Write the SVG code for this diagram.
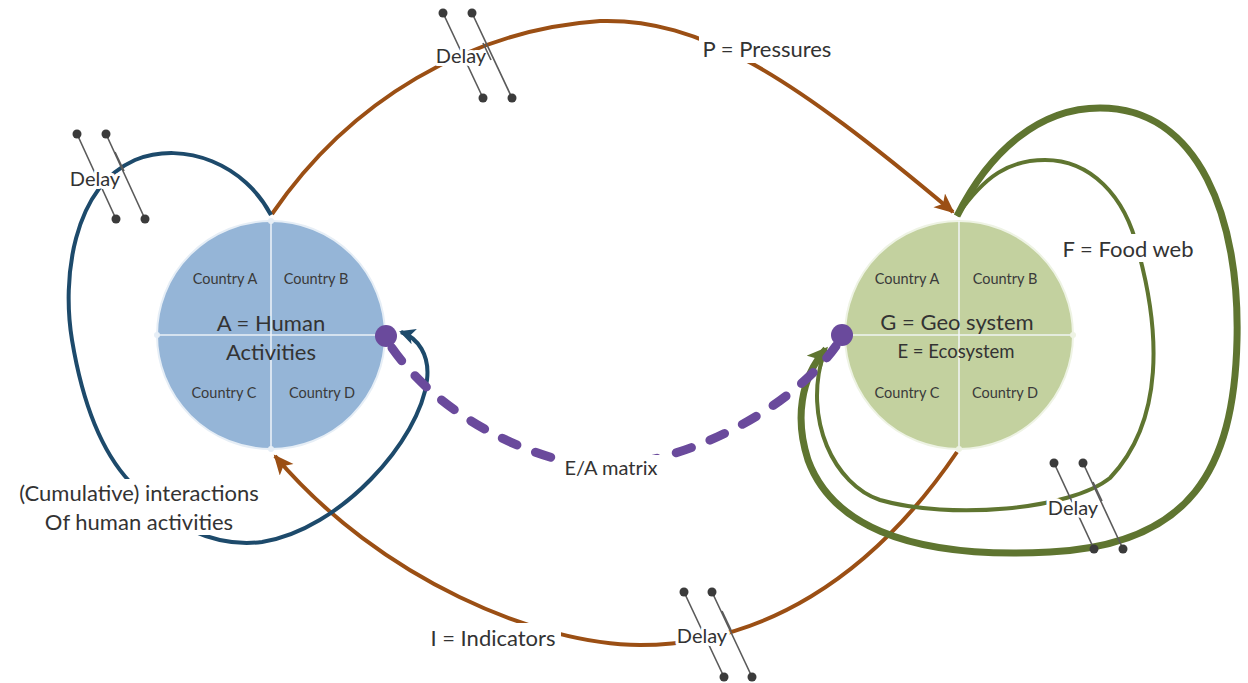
<svg xmlns="http://www.w3.org/2000/svg" width="1248" height="683" viewBox="0 0 1248 683">
<style>
  text{font-family:Lato,"Open Sans","Liberation Sans",sans-serif;fill:#333;text-anchor:middle;dominant-baseline:central}
  .ctry{font-size:14.5px;fill:#3a3a3a}
  .big{font-size:22px}
  .lbl{font-size:22px}
  .dly{font-size:20px}
  .halo{paint-order:stroke;stroke:#fff;stroke-width:6px;stroke-linejoin:round}
  .div{stroke:#f4f8fb;stroke-width:1.6;opacity:0.9}
  .brown{fill:none;stroke:#9b4f14;stroke-width:4}
  .blue{fill:none;stroke:#1d4a6b;stroke-width:4}
  .gthick{fill:none;stroke:#5f7530;stroke-width:7}
  .gthin{fill:none;stroke:#5f7530;stroke-width:4}
  .purple{fill:none;stroke:#6a4a9c;stroke-width:9;stroke-linecap:round;stroke-dasharray:16 20}
  .dl{stroke:#5a5a5a;stroke-width:1.6}
  .dd{fill:#3b3b3b}
  .bg{fill:#fff}
</style>
<defs>
  <marker id="arB" markerUnits="userSpaceOnUse" markerWidth="24" markerHeight="20" refX="18" refY="9" orient="auto">
    <path d="M0,0 L20,9 L0,18 L5,9 z" fill="#9b4f14"/>
  </marker>
  <marker id="arBl" markerUnits="userSpaceOnUse" markerWidth="20" markerHeight="18" refX="14" refY="8" orient="auto">
    <path d="M0,0 L16,8 L0,16 L4,8 z" fill="#1d4a6b"/>
  </marker>
  <marker id="arG" markerUnits="userSpaceOnUse" markerWidth="26" markerHeight="22" refX="18" refY="10" orient="auto">
    <path d="M0,0 L21,10 L0,20 L5,10 z" fill="#5f7530"/>
  </marker>
</defs>

<rect width="1248" height="683" fill="#fff"/>

<g id="node-A">
  <circle cx="271" cy="335" r="114" fill="#95b5d7" stroke="#e6eef6" stroke-width="2"/>
  <line class="div" x1="271" y1="221" x2="271" y2="449"/>
  <line class="div" x1="157" y1="335" x2="385" y2="335"/>
  <circle cx="271" cy="221" r="3" fill="#e6eef6"/>
  <circle cx="271" cy="449" r="3" fill="#e6eef6"/>
  <circle cx="157" cy="335" r="3" fill="#e6eef6"/>
  <text class="ctry" x="225" y="278">Country A</text>
  <text class="ctry" x="316" y="278">Country B</text>
  <text class="big" x="271" y="322">A = Human</text>
  <text class="big" x="271" y="351">Activities</text>
  <text class="ctry" x="224" y="392">Country C</text>
  <text class="ctry" x="322" y="392">Country D</text>
</g>

<g id="node-G">
  <circle cx="959" cy="335" r="114" fill="#c3d19f" stroke="#eef3e4" stroke-width="2"/>
  <line class="div" x1="959" y1="221" x2="959" y2="449"/>
  <line class="div" x1="845" y1="335" x2="1073" y2="335"/>
  <circle cx="959" cy="449" r="3" fill="#eef3e4"/>
  <circle cx="1073" cy="335" r="3" fill="#eef3e4"/>
  <text class="ctry" x="907" y="278">Country A</text>
  <text class="ctry" x="1005" y="278">Country B</text>
  <text class="big" x="957" y="321">G = Geo system</text>
  <text x="956" y="351" style="font-size:18.5px">E = Ecosystem</text>
  <text class="ctry" x="907" y="392">Country C</text>
  <text class="ctry" x="1005" y="392">Country D</text>
</g>

<g id="connectors">
  <!-- P = Pressures -->
  <path class="brown" d="M272 214 C350 100, 470 30, 600 21 C700 18, 790 75, 953 212" marker-end="url(#arB)"/>
  <!-- I = Indicators -->
  <path class="brown" d="M957 452 C870 580, 760 645, 640 645 C540 645, 380 580, 275 456" marker-end="url(#arB)"/>
  <!-- blue cumulative loop -->
  <path class="blue" d="M271 215 C245 165, 185 140, 135 160 C72 188, 62 280, 72 340 C82 400, 100 450, 130 482 C165 525, 215 548, 262 542 C340 530, 420 440, 427 380 C430 355, 418 338, 401 332" marker-end="url(#arBl)"/>
  <!-- green food web loops -->
  <path class="gthick" d="M957 216 C990 150, 1040 108, 1100 108 C1200 108, 1240 220, 1237 340 C1234 470, 1190 545, 1050 552 C900 560, 830 520, 808 460 C795 420, 800 378, 826 349" marker-end="url(#arG)"/>
  <path class="gthin" d="M957 216 C985 175, 1010 160, 1045 160 C1090 160, 1125 195, 1138 250 C1160 330, 1165 420, 1110 478 C1070 510, 950 520, 880 500 C835 485, 802 420, 824 352"/>
  <!-- E/A matrix -->
  <path class="purple" d="M392 348 C450 430, 560 470, 612 466 C690 460, 790 410, 836 346"/>
  <circle cx="386" cy="336" r="11" fill="#6a4a9c"/>
  <circle cx="842" cy="335" r="11" fill="#6a4a9c"/>
</g>

<g id="labels">
  <rect class="bg" x="699" y="35" width="138" height="28"/>
  <text class="lbl" x="767" y="48">P = Pressures</text>
  <rect class="bg" x="1058" y="234" width="140" height="28"/>
  <text class="lbl" x="1128" y="248">F = Food web</text>
  <rect class="bg" x="425" y="623" width="136" height="28"/>
  <text class="lbl" x="493" y="637">I = Indicators</text>
  <rect class="bg" x="560" y="455" width="102" height="24"/>
  <text x="611" y="467" style="font-size:20px">E/A matrix</text>
  <rect class="bg" x="10" y="479" width="258" height="56"/>
  <text class="lbl" x="139" y="492">(Cumulative) interactions</text>
  <text class="lbl" x="139" y="521">Of human activities</text>
</g>

<g id="delay-top">
  <line class="dl" x1="443" y1="13" x2="483" y2="98"/>
  <line class="dl" x1="472" y1="13" x2="512" y2="98"/>
  <circle class="dd" cx="443" cy="13" r="4.5"/><circle class="dd" cx="472" cy="13" r="4.5"/>
  <circle class="dd" cx="483" cy="98" r="4.5"/><circle class="dd" cx="512" cy="98" r="4.5"/>
  <text class="dly halo" x="461" y="55">Delay</text>
  <line class="dl" x1="483" y1="43" x2="491" y2="60"/>
</g>
<g id="delay-left">
  <line class="dl" x1="77" y1="134" x2="116" y2="219"/>
  <line class="dl" x1="106" y1="134" x2="145" y2="219"/>
  <circle class="dd" cx="77" cy="134" r="4.5"/><circle class="dd" cx="106" cy="134" r="4.5"/>
  <circle class="dd" cx="116" cy="219" r="4.5"/><circle class="dd" cx="145" cy="219" r="4.5"/>
  <text class="dly halo" x="95" y="178">Delay</text>
  <line class="dl" x1="115" y1="152" x2="124" y2="171"/>
</g>
<g id="delay-bottom">
  <line class="dl" x1="684" y1="592" x2="724" y2="677"/>
  <line class="dl" x1="712" y1="592" x2="752" y2="677"/>
  <circle class="dd" cx="684" cy="592" r="4.5"/><circle class="dd" cx="712" cy="592" r="4.5"/>
  <circle class="dd" cx="724" cy="677" r="4.5"/><circle class="dd" cx="752" cy="677" r="4.5"/>
  <text class="dly halo" x="702" y="635">Delay</text>
  <line class="dl" x1="722" y1="611" x2="731" y2="630"/>
</g>
<g id="delay-right">
  <line class="dl" x1="1054" y1="463" x2="1094" y2="549"/>
  <line class="dl" x1="1083" y1="463" x2="1123" y2="549"/>
  <circle class="dd" cx="1054" cy="463" r="4.5"/><circle class="dd" cx="1083" cy="463" r="4.5"/>
  <circle class="dd" cx="1094" cy="549" r="4.5"/><circle class="dd" cx="1123" cy="549" r="4.5"/>
  <text class="dly halo" x="1073" y="507">Delay</text>
  <line class="dl" x1="1093" y1="482" x2="1102" y2="501"/>
</g>
</svg>
